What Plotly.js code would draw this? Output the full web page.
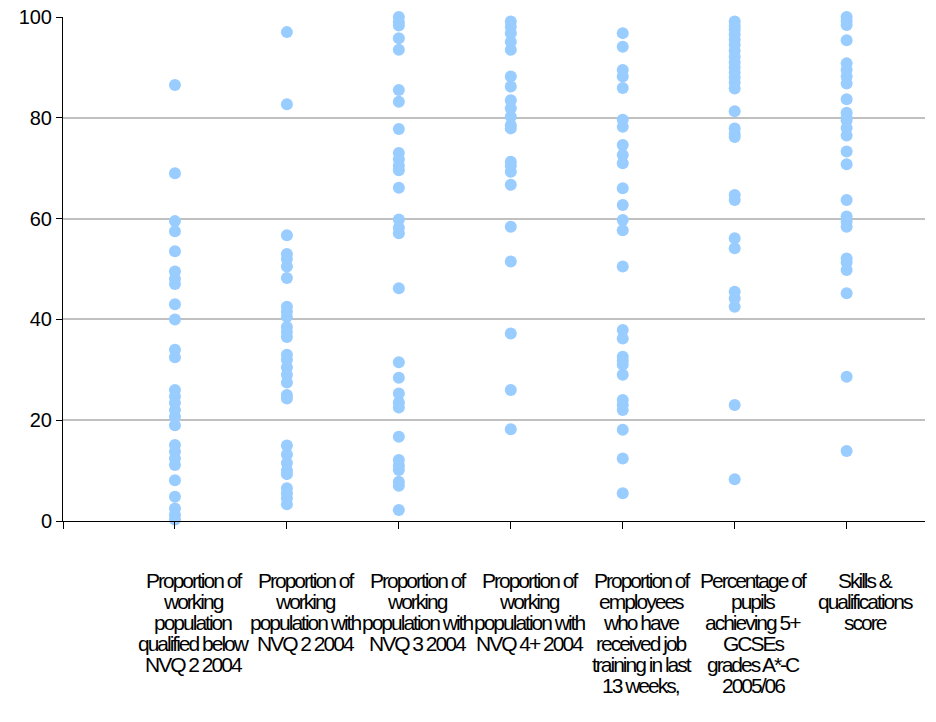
<!DOCTYPE html>
<html>
<head>
<meta charset="utf-8">
<script src="https://cdn.plot.ly/plotly-3.0.1.min.js"></script>
<style>
html,body{margin:0;padding:0;background:#fff;}
#chart{width:936px;height:722px;}
#chart .annotation-text{letter-spacing:-2px;}
</style>
</head>
<body>
<div id="chart"></div>
<script>
// Category labels (one array of lines per category)
const categoryLabels = [
  ["Proportion of", "working", "population", "qualified below", "NVQ 2 2004"],
  ["Proportion of", "working", "population with", "NVQ 2 2004"],
  ["Proportion of", "working", "population with", "NVQ 3 2004"],
  ["Proportion of", "working", "population with", "NVQ 4+ 2004"],
  ["Proportion of", "employees", "who have", "received job", "training in last", "13 weeks,"],
  ["Percentage of", "pupils", "achieving 5+", "GCSEs", "grades A*-C", "2005/06"],
  ["Skills &", "qualifications", "score"]
];

// Values, one array per category
const belowNVQ2 = [86.5, 69, 59.5, 57.5, 53.5, 49.5, 48, 47, 43, 40, 34, 32.5, 26, 24.7, 23.4, 22, 20.7, 19, 15.1, 13.8, 12.4, 11.1, 8.1, 4.8, 2.5, 1.2, 0.3];
const withNVQ2 = [97, 82.7, 56.7, 53, 52, 50.5, 48.2, 42.5, 41.5, 40.5, 38.5, 37.5, 36.5, 33, 32, 30.5, 29, 27.5, 25, 24.3, 15, 13.2, 11.5, 10, 9.3, 6.5, 5.5, 4.5, 3.3];
const withNVQ3 = [100, 99, 98.3, 95.8, 93.5, 85.5, 83.2, 77.8, 73, 71.8, 70.5, 69.6, 66.1, 59.8, 58.2, 57.1, 46.2, 31.5, 28.4, 25.3, 23.5, 22.5, 16.7, 12.1, 11, 10.1, 7.8, 7, 2.2];
const withNVQ4 = [99.1, 98, 96.8, 95.1, 93.5, 88.2, 86.2, 83.5, 81.9, 80.2, 78.5, 77.9, 71.3, 70.5, 69.3, 66.7, 58.4, 51.5, 37.2, 26, 18.2];
const jobTraining = [96.8, 94.1, 89.5, 88.2, 85.9, 79.6, 78.2, 74.6, 72.6, 71, 66, 62.7, 59.7, 57.7, 50.5, 37.9, 36.2, 32.6, 31.8, 31, 29, 24, 23, 22, 18.1, 12.4, 5.5];
const gcse = [99.1, 98.2, 97.5, 96.6, 95.5, 94.5, 93.3, 92.1, 91, 90, 89, 88, 87, 85.8, 81.3, 77.9, 76.8, 76.2, 64.7, 63.7, 56.1, 54.1, 45.5, 44.2, 42.5, 23, 8.3];
const skillsScore = [100, 99.2, 98.4, 95.4, 90.8, 89.5, 88.2, 86.8, 83.7, 81, 80, 79.5, 78, 76.5, 73.3, 70.8, 63.7, 60.4, 59.4, 58.4, 52.1, 51.3, 49.8, 45.2, 28.6, 13.9];

const series = [belowNVQ2, withNVQ2, withNVQ3, withNVQ4, jobTraining, gcse, skillsScore];
const yTicks = [0, 20, 40, 60, 80, 100];

const xs = [], ys = [];
series.forEach((vals, i) => {
  vals.forEach(v => { xs.push(i + 1); ys.push(v); });
});

const traces = [{
  type: 'scatter',
  mode: 'markers',
  x: xs,
  y: ys,
  marker: {size: 12, color: '#99CCFF', line: {width: 0}},
  hoverinfo: 'y',
  cliponaxis: false
}];

const annotations = [];
categoryLabels.forEach((lines, i) => {
  lines.forEach((line, k) => {
    annotations.push({
      x: i + 1, xref: 'x',
      y: 0, yref: 'paper',
      xanchor: 'center', yanchor: 'middle',
      xshift: 18,
      yshift: -59 - 21 * k,
      text: line,
      showarrow: false,
      font: {family: '"Liberation Sans", Arial, sans-serif', size: 21, color: '#000'}
    });
  });
});

const layout = {
  width: 936,
  height: 722,
  margin: {l: 63, r: 11, t: 17, b: 201},
  paper_bgcolor: '#fff',
  plot_bgcolor: '#fff',
  showlegend: false,
  xaxis: {
    range: [0, 7.7],
    tickvals: [0, 1, 2, 3, 4, 5, 6, 7],
    showticklabels: false,
    ticks: 'outside',
    ticklen: 7,
    tickcolor: '#000',
    tickwidth: 1,
    showgrid: false,
    zeroline: false,
    showline: true,
    linecolor: '#000',
    linewidth: 1,
    fixedrange: true
  },
  yaxis: {
    range: [0, 100],
    tickvals: yTicks,
    ticktext: yTicks.map(String),
    ticks: 'outside',
    ticklen: 6,
    tickcolor: '#000',
    tickwidth: 1,
    tickfont: {family: '"Liberation Sans", Arial, sans-serif', size: 20, color: '#000'},
    showgrid: true,
    gridcolor: '#C0C0C0',
    gridwidth: 2,
    zeroline: false,
    showline: true,
    linecolor: '#000',
    linewidth: 1,
    fixedrange: true
  },
  annotations: annotations
};

Plotly.newPlot('chart', traces, layout, {displayModeBar: false, staticPlot: true});
</script>
</body>
</html>
